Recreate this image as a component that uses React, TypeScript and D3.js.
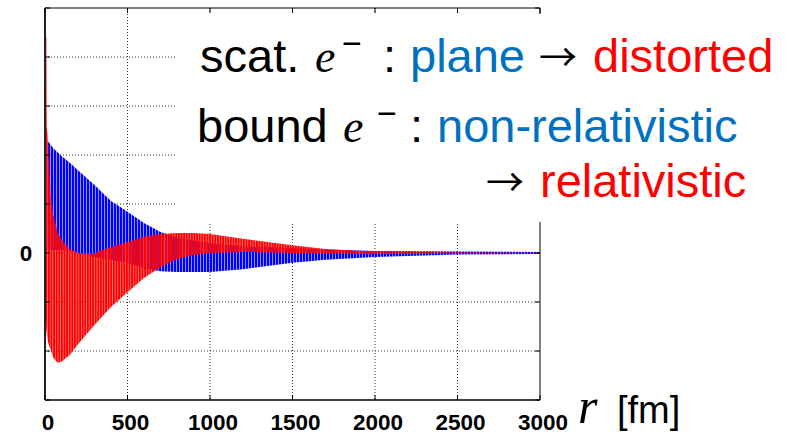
import React, { useEffect, useRef } from 'react';
import * as d3 from 'd3';

// axis ticks
const xTicks = [0, 500, 1000, 1500, 2000, 2500, 3000];
const yTicks = [-3, -2, -1, 0, 1, 2, 3, 4, 5];
const yTickLabels = [{ v: 0, label: '0' }];

// bound/plane (blue) wave envelope
const blueR = [0, 10, 20, 50, 100, 150, 200, 300, 400, 500, 600, 700, 800, 1000, 1200, 1500, 1700, 2000, 2500, 3000];
const blueUpper = [2.2, 2.31, 2.27, 2.14, 1.98, 1.84, 1.69, 1.39, 1.06, 0.84, 0.61, 0.43, 0.31, 0.2, 0.14, 0.1, 0.07, 0.04, 0.03, 0.02];
const blueLower = [0, 0.04, 0.06, 0.06, 0.06, 0.04, 0, -0.08, -0.14, -0.2, -0.31, -0.37, -0.39, -0.39, -0.33, -0.2, -0.14, -0.08, -0.03, -0.02];

// distorted/relativistic (red) wave envelope
const redR = [0, 8, 10, 17, 25, 35, 50, 75, 100, 150, 200, 300, 400, 500, 600, 700, 800, 900, 1000, 1200, 1500, 1700, 2000, 2500, 3000];
const redUpper = [4.41, 4.41, 2.57, 2.41, 1.73, 1.14, 0.78, 0.43, 0.27, 0.08, 0, 0, 0.12, 0.22, 0.33, 0.39, 0.41, 0.41, 0.39, 0.29, 0.16, 0.08, 0.03, 0.01, 0];
const redLower = [-0.96, -1.57, -1.65, -1.8, -1.9, -1.98, -2.14, -2.24, -2.22, -2.08, -1.86, -1.47, -1.1, -0.8, -0.51, -0.29, -0.12, -0.04, 0, 0.02, 0, -0.01, -0.02, -0.01, -0.01];

const SANS = '"Liberation Sans", Arial, sans-serif';
const SERIF = '"Liberation Serif", "Times New Roman", serif';
const ARROW = '"Noto Sans CJK JP", sans-serif';
const BLUE_TXT = '#0070c0';
const RED_TXT = '#ff0000';

export default function App() {
  const ref = useRef<SVGSVGElement>(null);

  useEffect(() => {
    const svg = d3.select(ref.current);
    svg.selectAll('*').remove();

    const left = 45, right = 540, top = 8, bottom = 400;
    const x = d3.scaleLinear().domain([0, 3000]).range([left, right]);
    const y = d3.scaleLinear().domain([-3, 5]).range([bottom, top]);

    svg.append('rect').attr('width', 792).attr('height', 434).attr('fill', '#fff');

    // stripe patterns to mimic the fast oscillation
    const defs = svg.append('defs');
    const stripes = (id: string, color: string, gap: string, period: number, barW: number, offset: number) => {
      const p = defs.append('pattern')
        .attr('id', id)
        .attr('patternUnits', 'userSpaceOnUse')
        .attr('x', offset)
        .attr('width', period)
        .attr('height', 4);
      p.append('rect').attr('width', period).attr('height', 4).attr('fill', gap);
      p.append('rect').attr('width', barW).attr('height', 4).attr('fill', color);
    };
    stripes('blueStripes', '#0000ff', 'rgba(90,90,255,0.45)', 3, 2.2, 0);
    stripes('redStripes', '#ff0000', 'rgba(255,70,70,0.45)', 2.6, 2.0, 1.2);

    // dotted grid
    svg.append('g')
      .selectAll('line')
      .data(xTicks.slice(1, -1))
      .enter()
      .append('line')
        .attr('x1', d => x(d)).attr('x2', d => x(d))
        .attr('y1', top).attr('y2', bottom)
        .attr('stroke', '#333').attr('stroke-width', 1).attr('stroke-dasharray', '1,2');
    svg.append('g')
      .selectAll('line')
      .data(yTicks.slice(1, -1))
      .enter()
      .append('line')
        .attr('x1', left).attr('x2', right)
        .attr('y1', d => y(d)).attr('y2', d => y(d))
        .attr('stroke', '#333').attr('stroke-width', 1).attr('stroke-dasharray', '1,2');

    // envelopes
    const blueArea = d3.area<number>()
      .x((d) => x(d))
      .y0((_, i) => y(blueLower[i]))
      .y1((_, i) => y(blueUpper[i]));
    const redArea = d3.area<number>()
      .x((d) => x(d))
      .y0((_, i) => y(redLower[i]))
      .y1((_, i) => y(redUpper[i]));
    svg.append('path').attr('d', blueArea(blueR) as string).attr('fill', 'url(#blueStripes)');
    svg.append('path').attr('d', redArea(redR) as string).attr('fill', 'url(#redStripes)');

    // frame and inward ticks
    const frame = svg.append('g').attr('stroke', '#000');
    frame.append('line').attr('x1', left).attr('x2', right).attr('y1', bottom).attr('y2', bottom).attr('stroke-width', 1.5);
    frame.append('line').attr('x1', left).attr('x2', right).attr('y1', top).attr('y2', top).attr('stroke-width', 1);
    frame.append('line').attr('x1', right).attr('x2', right).attr('y1', top).attr('y2', bottom).attr('stroke-width', 1);
    frame.append('line').attr('x1', left).attr('x2', left).attr('y1', top).attr('y2', bottom).attr('stroke-width', 2).attr('stroke', '#222');
    xTicks.forEach((t) => {
      frame.append('line').attr('x1', x(t)).attr('x2', x(t)).attr('y1', bottom).attr('y2', bottom - 5);
      frame.append('line').attr('x1', x(t)).attr('x2', x(t)).attr('y1', top).attr('y2', top + 5);
    });
    yTicks.forEach((t) => {
      frame.append('line').attr('x1', left).attr('x2', left + 5).attr('y1', y(t)).attr('y2', y(t));
      frame.append('line').attr('x1', right).attr('x2', right - 5).attr('y1', y(t)).attr('y2', y(t));
    });

    // tick labels
    svg.append('g')
      .selectAll('text')
      .data(xTicks)
      .enter()
      .append('text')
        .attr('x', d => x(d) + 3)
        .attr('y', 430)
        .attr('text-anchor', 'middle')
        .attr('font-family', SANS)
        .attr('font-weight', 'bold')
        .attr('font-size', 22.5)
        .text(d => String(d));
    svg.append('g')
      .selectAll('text')
      .data(yTickLabels)
      .enter()
      .append('text')
        .attr('x', 26)
        .attr('y', d => y(d.v) + 8)
        .attr('text-anchor', 'middle')
        .attr('font-family', SANS)
        .attr('font-weight', 'bold')
        .attr('font-size', 22.5)
        .text(d => d.label);

    // axis title
    svg.append('text').attr('x', 578).attr('y', 423)
      .attr('font-family', SERIF).attr('font-style', 'italic').attr('font-size', 50).text('r');
    svg.append('text').attr('x', 617).attr('y', 423)
      .attr('font-family', SANS).attr('font-size', 38).text('[fm]');

    // white text box over the upper right of the plot
    svg.append('rect').attr('x', 177).attr('y', 14).attr('width', 615).attr('height', 208).attr('fill', '#fff');

    const fs = 47;
    const line = (base: number, parts: { x: number; t: string; c?: string; serif?: boolean; sup?: boolean; arrow?: boolean }[]) => {
      parts.forEach((p) => {
        svg.append('text')
          .attr('x', p.x)
          .attr('y', p.sup ? base - 17 : p.arrow ? base - 1 : base)
          .attr('font-family', p.serif ? SERIF : p.arrow ? ARROW : SANS)
          .attr('font-style', p.serif ? 'italic' : 'normal')
          .attr('font-size', p.sup ? 34 : p.serif ? 46 : p.arrow ? 38 : fs)
          .attr('fill', p.c || '#000')
          .text(p.t);
      });
    };
    line(72, [
      { x: 200, t: 'scat.' },
      { x: 315, t: 'e', serif: true },
      { x: 342, t: '\u2212', sup: true },
      { x: 383, t: ':' },
      { x: 410, t: 'plane', c: BLUE_TXT },
      { x: 539, t: '\u2192', arrow: true },
      { x: 593, t: 'distorted', c: RED_TXT },
    ]);
    line(142, [
      { x: 197, t: 'bound' },
      { x: 343, t: 'e', serif: true },
      { x: 377, t: '\u2212', sup: true },
      { x: 410, t: ':' },
      { x: 437, t: 'non-relativistic', c: BLUE_TXT },
    ]);
    line(197, [
      { x: 486, t: '\u2192', arrow: true },
      { x: 540, t: 'relativistic', c: RED_TXT },
    ]);
  }, []);

  return (
    <svg
      ref={ref}
      width={792}
      height={434}
      style={{ position: 'absolute', left: 0, top: 0, display: 'block' }}
    />
  );
}
